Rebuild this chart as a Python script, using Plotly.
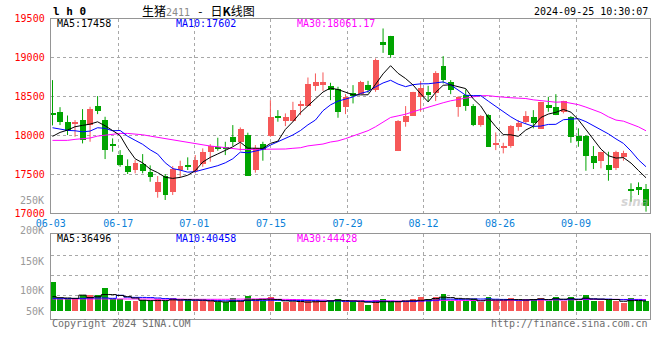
import plotly.graph_objects as go

W, H = 660, 360

# ---------------- data ----------------
opens = [18290, 18311, 18183, 18154, 18209, 18141, 18389, 18209, 17901, 17756,
         17619, 17568, 17641, 17542, 17286, 17491, 17277, 17564, 17632, 17546,
         17641, 17790, 17863, 17863, 17982, 17918, 18017, 17568, 17897, 18004,
         18247, 18196, 18196, 18384, 18388, 18641, 18658, 18645, 18603, 18376,
         18546, 18538, 18654, 18594, 19209, 19277, 17811, 18175, 18260, 18495,
         18559, 18546, 18901, 18696, 18367, 18529, 18388, 18145, 18273, 17888,
         17846, 17867, 18111, 18183, 18247, 18090, 18401, 18376, 18303, 18247,
         18004, 18004, 17747, 17683, 17632, 17590, 17735, 17308, 17350, 17312]
highs = [18709, 18362, 18255, 18196, 18337, 18367, 18504, 18239, 17961, 17811,
         17692, 17683, 17760, 17615, 17478, 17504, 17606, 17675, 17718, 17747,
         17833, 17888, 17970, 17918, 18132, 18102, 18034, 17876, 17918, 18452,
         18324, 18282, 18431, 18444, 18743, 18795, 18808, 18675, 18624, 18529,
         18645, 18700, 18700, 18987, 19372, 19277, 18196, 18376, 18559, 18696,
         18636, 18824, 19017, 18709, 18504, 18590, 18401, 18260, 18273, 18038,
         17905, 18132, 18196, 18311, 18324, 18431, 18495, 18529, 18444, 18247,
         18090, 18004, 17863, 17790, 17790, 17803, 17803, 17385, 17397, 17376]
lows = [18128, 18132, 18004, 17982, 17897, 17918, 18273, 17696, 17790, 17597,
        17504, 17513, 17513, 17405, 17200, 17171, 17235, 17461, 17555, 17513,
        17597, 17662, 17803, 17747, 17863, 17803, 17491, 17521, 17675, 17982,
        18175, 18119, 18175, 18260, 18376, 18572, 18572, 18452, 18226, 18273,
        18410, 18529, 18546, 18559, 19059, 18995, 17799, 18111, 18260, 18303,
        18431, 18440, 18667, 18529, 18239, 18315, 18119, 18111, 17854, 17811,
        17769, 17841, 18059, 18154, 18090, 18090, 18303, 18260, 18282, 17905,
        17854, 17546, 17568, 17577, 17418, 17555, 17675, 17149, 17235, 17021]
closes = [18269, 18175, 18069, 18175, 17953, 18350, 18324, 17816, 17867, 17632,
          17533, 17649, 17555, 17469, 17405, 17235, 17577, 17619, 17606, 17696,
          17790, 17876, 17841, 17833, 17927, 18085, 17491, 17841, 17820, 18247,
          18230, 18247, 18333, 18397, 18667, 18696, 18687, 18590, 18303, 18504,
          18517, 18687, 18594, 18978, 19171, 19042, 18196, 18260, 18559, 18610,
          18525, 18803, 18718, 18590, 18504, 18388, 18145, 18260, 17854, 17914,
          17876, 18132, 18162, 18260, 18162, 18431, 18354, 18273, 18444, 17991,
          17940, 17747, 17649, 17790, 17568, 17790, 17777, 17299, 17308, 17106]
volumes = [81600, 39900, 39900, 39900, 50800, 50800, 50800, 66600, 39900, 39900,
           35800, 34100, 38300, 35800, 39900, 35800, 43300, 38300, 38300, 35800,
           34100, 34100, 31600, 31600, 43300, 35800, 48300, 35800, 35800, 45800,
           31600, 31600, 31600, 31600, 38300, 35800, 35800, 38300, 40800, 32400,
           32400, 32400, 25800, 38300, 40800, 32400, 32400, 35800, 40800, 45800,
           40800, 45800, 53300, 35800, 35800, 35800, 40800, 32400, 45800, 35800,
           35800, 43300, 35800, 40800, 40800, 43300, 35800, 45800, 35800, 45800,
           35800, 50800, 35800, 34100, 40800, 35800, 29100, 43300, 35800, 35800]

# moving-average values before enough bars exist
ma5_head = [17987, 18038, 18068, 18111]
ma10_head = [18098, 18077, 18064, 18059, 18046, 18055, 18098, 18090, 18059]
ma30_head = [17936, 17936, 17936, 17949, 17953, 17966, 17991, 18004, 18017, 18025,
             18025, 18021, 18008, 17991, 17974, 17957, 17940, 17931, 17914, 17888,
             17876, 17863, 17854, 17841, 17824, 17820, 17820, 17820, 17824]
vma5_head = [46600, 44100, 43300, 42400]
vma10_head = [42400, 42400, 42000, 42000, 42400, 43300, 43300, 43300, 42400]
vma30_head = [40800, 40800, 40800, 40800, 40800, 40800, 40800, 40800, 40800, 40800,
              40800, 40800, 40800, 40800, 40400, 40400, 40400, 40400, 40000, 40000,
              40000, 40000, 40000, 40000, 40400, 40400, 40800, 40800, 41200]

x_tick_labels = ['06-03', '06-17', '07-01', '07-15', '07-29', '08-12', '08-26', '09-09']
price_ticks = [17000, 17500, 18000, 18500, 19000, 19500]
vol_grid = [50000, 100000, 150000]
vol_tick_labels = ['250K', '200K', '150K', '100K', '50K']

legend_main = ['MA5:17458', 'MA10:17602', 'MA30:18061.17']
legend_vol = ['MA5:36496', 'MA10:40458', 'MA30:44428']
title_code = '2411'
timestamp = '2024-09-25 10:30:07'

# ---------------- layout constants ----------------
x_tick_pos = [-0.24, 8.76, 18.87, 29.08, 39.27, 49.38, 59.56, 69.68]
vol_label_y = [200.3, 230.8, 261, 290.7, 311]
VOL_FLOOR = 10750
RED = '#f65858'
GREEN = '#00a400'
MONO = 'DejaVu Sans Mono'


def ma(vals, n, head):
    out = list(head)
    for i in range(n - 1, len(vals)):
        out.append(sum(vals[i - n + 1:i + 1]) / n)
    return out


def px(x):
    return x / W


def py(y):
    return 1 - y / H


n = len(closes)
idx = list(range(n))
up = [c >= o for o, c in zip(opens, closes)]

fig = go.Figure()

# candle wicks
for flag, col in ((True, RED), (False, GREEN)):
    wx, wy = [], []
    for i in idx:
        if up[i] == flag:
            wx += [i, i, None]
            wy += [lows[i], highs[i], None]
    fig.add_trace(go.Scatter(x=wx, y=wy, mode='lines', line=dict(color=col, width=1),
                             xaxis='x', yaxis='y', hoverinfo='skip', showlegend=False))

# candle bodies
for flag, col in ((True, RED), (False, GREEN)):
    bx = [i for i in idx if up[i] == flag]
    base = [min(opens[i], closes[i]) for i in bx]
    hgt = [max(abs(closes[i] - opens[i]), 12) for i in bx]
    fig.add_trace(go.Bar(x=bx, y=hgt, base=base, width=0.78, marker=dict(color=col, line=dict(width=0)),
                         xaxis='x', yaxis='y', showlegend=False))

# price MAs
for vals, colr in ((ma(closes, 30, ma30_head), '#ff00ff'),
                   (ma(closes, 10, ma10_head), '#0000ff'),
                   (ma(closes, 5, ma5_head), '#000000')):
    fig.add_trace(go.Scatter(x=idx, y=vals, mode='lines', line=dict(color=colr, width=1),
                             xaxis='x', yaxis='y', showlegend=False))

# volume bars
for flag, col in ((True, RED), (False, GREEN)):
    bx = [i for i in idx if up[i] == flag]
    fig.add_trace(go.Bar(x=bx, y=[volumes[i] - VOL_FLOOR for i in bx], base=VOL_FLOOR, width=0.78,
                         marker=dict(color=col, line=dict(width=0)),
                         xaxis='x2', yaxis='y2', showlegend=False))

for vals, colr in ((ma(volumes, 30, vma30_head), '#ff00ff'),
                   (ma(volumes, 10, vma10_head), '#0000ff'),
                   (ma(volumes, 5, vma5_head), '#000000')):
    fig.add_trace(go.Scatter(x=idx, y=vals, mode='lines', line=dict(color=colr, width=1, shape='hvh'),
                             xaxis='x2', yaxis='y2', showlegend=False))

xdom = [px(50.7), px(650)]
xrange_ = [-0.24, 79.53]
grid = dict(showgrid=True, gridcolor='#a8a8a8', griddash='dot', gridwidth=1)
border = dict(showline=True, mirror=True, linecolor='#959595', linewidth=1, zeroline=False,
              automargin=False)

fig.update_layout(
    width=W, height=H, margin=dict(l=0, r=0, t=0, b=0, autoexpand=False),
    paper_bgcolor='white', plot_bgcolor='white', barmode='overlay', bargap=0,
    xaxis=dict(domain=xdom, range=xrange_, tickvals=x_tick_pos, ticktext=x_tick_labels,
               tickfont=dict(family=MONO, size=10, color='#0a7fd8'), ticks='outside', ticklen=1,
               tickcolor='rgba(0,0,0,0)', anchor='y', **grid, **border),
    yaxis=dict(domain=[py(213.3), py(18.5)], range=[17000, 19500], tickvals=price_ticks,
               ticktext=[str(v) for v in price_ticks],
               tickfont=dict(family=MONO, size=10, color='#ff0000'), ticks='outside', ticklen=3,
               tickcolor='rgba(0,0,0,0)', anchor='x', **grid, **border),
    xaxis2=dict(domain=xdom, range=xrange_, tickvals=x_tick_pos, showticklabels=False,
                anchor='y2', matches='x', **grid, **border),
    yaxis2=dict(domain=[py(319.3), py(234.3)], range=[-10000, 202500], tickvals=vol_grid,
                showticklabels=False, anchor='x2', **grid, **border),
)

ann = []
ann.append(dict(x=px(51), y=py(11.5), text='<b>l h 0</b>', xanchor='left', yanchor='middle',
                font=dict(family=MONO, size=11, color='#000')))
ann.append(dict(x=px(140), y=py(10.5),
                text=('生猪<span style="font-family:DejaVu Sans Mono;font-size:10px;color:#8a8a8a">'
                      + title_code + '</span>&nbsp;&nbsp;&nbsp;-&nbsp;&nbsp;&nbsp;日<b>K</b>线图'),
                xanchor='left', yanchor='middle', font=dict(family='Noto Sans CJK SC', size=12, color='#000')))
ann.append(dict(x=px(650), y=py(12), text=timestamp, xanchor='right', yanchor='middle',
                font=dict(family=MONO, size=10, color='#000')))
for txt, xx, colr in zip(legend_main, (55, 174.3, 295), ('#000000', '#0000ff', '#ff00ff')):
    ann.append(dict(x=px(xx), y=py(24), text=txt, xanchor='left', yanchor='middle',
                    font=dict(family=MONO, size=10, color=colr)))
for txt, xx, colr in zip(legend_vol, (55, 174.3, 295), ('#000000', '#0000ff', '#ff00ff')):
    ann.append(dict(x=px(xx), y=py(238.5), text=txt, xanchor='left', yanchor='middle',
                    font=dict(family=MONO, size=10, color=colr)))
for txt, yy in zip(vol_tick_labels, vol_label_y):
    ann.append(dict(x=px(46), y=py(yy), text=txt, xanchor='right', yanchor='middle',
                    font=dict(family=MONO, size=10, color='#9a9a9a')))
ann.append(dict(x=px(50), y=py(323.5), text='Copyright 2024 SINA.COM', xanchor='left', yanchor='middle',
                font=dict(family=MONO, size=10, color='#6e6e6e')))
ann.append(dict(x=px(650), y=py(323.5), text='http://finance.sina.com.cn', xanchor='right', yanchor='middle',
                font=dict(family=MONO, size=10, color='#6e6e6e')))
ann.append(dict(x=px(651), y=py(202), text='<b><i>sina</i></b>', xanchor='right', yanchor='middle',
                font=dict(family='DejaVu Sans', size=12, color='rgba(170,170,170,0.5)')))
for a in ann:
    a.update(xref='paper', yref='paper', showarrow=False)
fig.update_layout(annotations=ann)

fig.write_html('out.html', config={'displayModeBar': False},
               post_script="document.body.style.margin='0';document.body.style.overflow='hidden';")
